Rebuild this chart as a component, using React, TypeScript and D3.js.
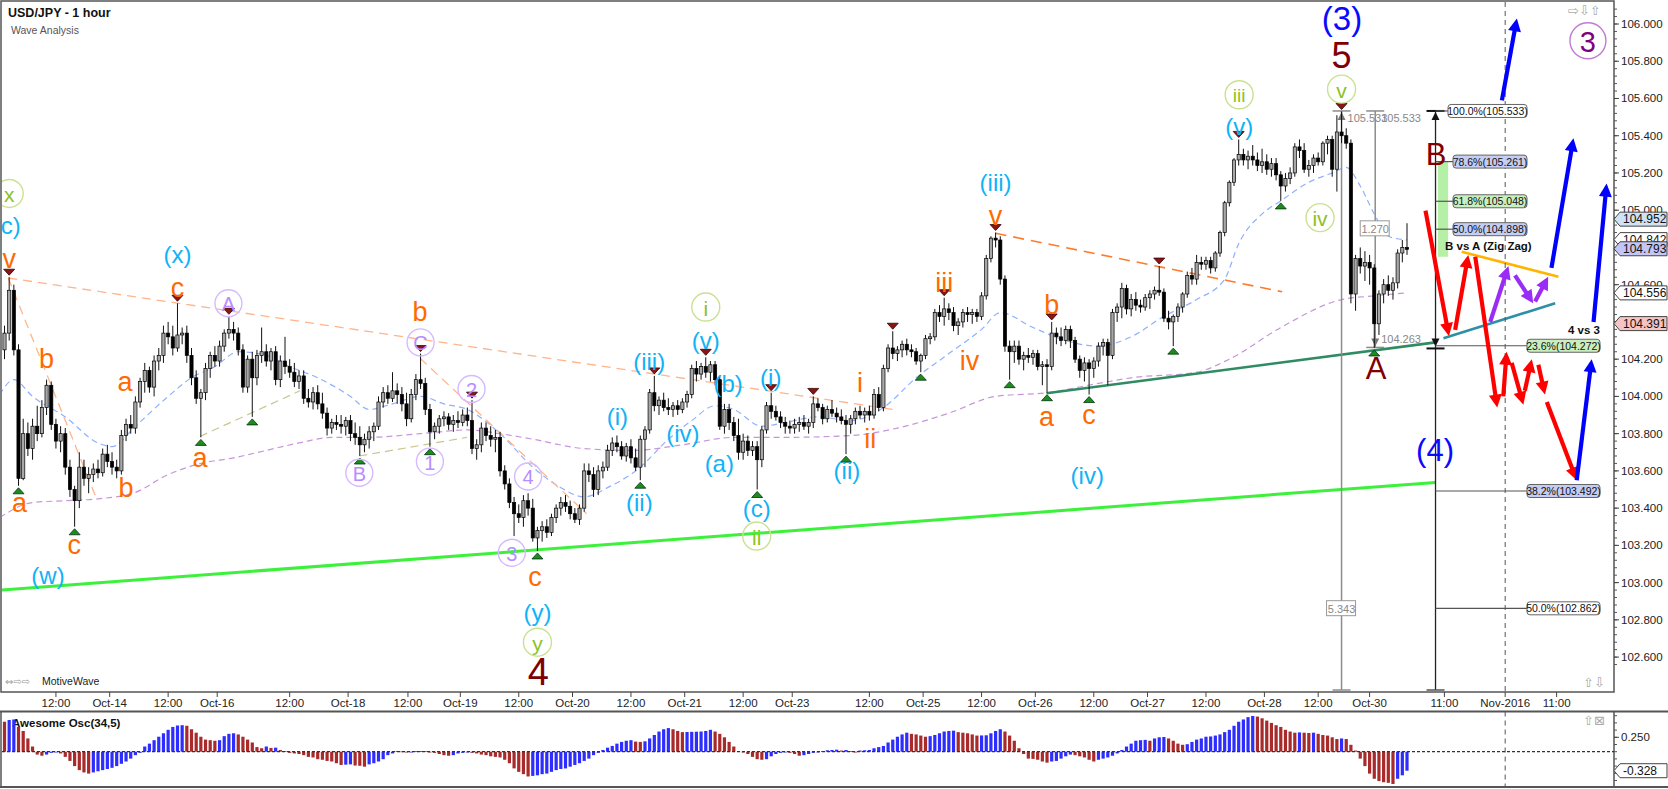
import React from 'react';
import * as d3 from 'd3';

// hourly candles, [open, high, low, close]
const candles: [number, number, number, number][] = [
  [104.25,104.38,104.20,104.34],[104.34,104.64,104.30,104.57],[104.57,104.60,104.22,104.25],[104.25,104.28,103.52,103.56],
  [103.56,103.88,103.55,103.80],[103.80,103.86,103.68,103.72],[103.72,103.88,103.66,103.84],[103.84,103.95,103.76,103.80],
  [103.80,103.98,103.78,103.94],[103.94,104.09,103.90,104.06],[104.06,104.08,103.82,103.85],[103.85,103.88,103.72,103.76],
  [103.76,103.84,103.70,103.80],[103.80,103.83,103.58,103.62],[103.62,103.66,103.46,103.50],[103.50,103.52,103.30,103.44],
  [103.44,103.70,103.40,103.62],[103.62,103.66,103.52,103.56],[103.56,103.62,103.48,103.58],[103.58,103.64,103.54,103.61],
  [103.61,103.66,103.56,103.59],[103.59,103.72,103.57,103.69],[103.69,103.74,103.62,103.65],[103.65,103.70,103.58,103.62],
  [103.62,103.66,103.56,103.60],[103.60,103.82,103.58,103.79],[103.79,103.88,103.76,103.85],[103.85,103.90,103.80,103.83],
  [103.83,104.00,103.80,103.97],[103.97,104.10,103.94,104.08],[104.08,104.18,104.02,104.14],[104.14,104.16,104.02,104.05],
  [104.05,104.22,104.00,104.19],[104.19,104.26,104.14,104.22],[104.22,104.38,104.18,104.34],[104.34,104.40,104.28,104.32],
  [104.32,104.38,104.22,104.26],[104.26,104.50,104.24,104.33],[104.33,104.37,104.28,104.34],[104.34,104.38,104.18,104.22],
  [104.22,104.26,104.06,104.10],[104.10,104.14,103.96,103.99],[103.99,104.04,103.78,104.02],[104.02,104.18,103.98,104.15],
  [104.15,104.24,104.10,104.22],[104.22,104.27,104.16,104.19],[104.19,104.30,104.16,104.27],[104.27,104.36,104.24,104.34],
  [104.34,104.43,104.31,104.36],[104.36,104.40,104.30,104.34],[104.34,104.37,104.22,104.25],[104.25,104.28,104.02,104.05],
  [104.05,104.22,104.02,104.20],[104.20,104.24,103.89,104.10],[104.10,104.25,104.06,104.22],[104.22,104.37,104.18,104.24],
  [104.24,104.28,104.16,104.19],[104.19,104.26,104.14,104.24],[104.24,104.27,104.06,104.09],[104.09,104.22,104.05,104.19],
  [104.19,104.32,104.12,104.16],[104.16,104.20,104.10,104.13],[104.13,104.18,104.05,104.08],[104.08,104.14,104.04,104.11],
  [104.11,104.14,103.96,103.99],[103.99,104.04,103.94,103.97],[103.97,104.05,103.93,104.02],[104.02,104.06,103.93,103.96],
  [103.96,104.02,103.88,103.91],[103.91,103.94,103.79,103.83],[103.83,103.88,103.80,103.86],[103.86,103.90,103.82,103.85],
  [103.85,103.90,103.80,103.84],[103.84,103.89,103.79,103.87],[103.87,103.90,103.76,103.80],[103.80,103.86,103.74,103.78],
  [103.78,103.84,103.68,103.74],[103.74,103.80,103.70,103.77],[103.77,103.84,103.72,103.81],[103.81,103.86,103.76,103.84],
  [103.84,104.00,103.82,103.97],[103.97,104.05,103.94,104.02],[104.02,104.06,103.96,103.99],[103.99,104.13,103.97,104.03],
  [104.03,104.07,103.96,104.01],[104.01,104.05,103.92,103.96],[103.96,104.02,103.84,103.88],[103.88,104.04,103.86,104.01],
  [104.01,104.12,103.98,104.09],[104.09,104.23,104.04,104.07],[104.07,104.10,103.90,103.93],[103.93,103.96,103.73,103.81],
  [103.81,103.86,103.77,103.84],[103.84,103.90,103.80,103.88],[103.88,103.92,103.84,103.89],[103.89,103.91,103.82,103.85],
  [103.85,103.90,103.81,103.87],[103.87,103.92,103.83,103.86],[103.86,103.93,103.84,103.90],[103.90,103.94,103.84,103.87],
  [103.87,103.98,103.69,103.72],[103.72,103.77,103.66,103.74],[103.74,103.86,103.70,103.83],[103.83,103.86,103.76,103.79],
  [103.79,103.84,103.73,103.77],[103.77,103.82,103.70,103.78],[103.78,103.81,103.57,103.60],[103.60,103.63,103.50,103.53],
  [103.53,103.56,103.40,103.43],[103.43,103.46,103.25,103.37],[103.37,103.42,103.32,103.35],[103.35,103.47,103.30,103.44],
  [103.44,103.48,103.36,103.40],[103.40,103.45,103.22,103.24],[103.24,103.30,103.17,103.28],[103.28,103.33,103.22,103.30],
  [103.30,103.34,103.24,103.27],[103.27,103.37,103.25,103.35],[103.35,103.42,103.32,103.40],[103.40,103.46,103.36,103.43],
  [103.43,103.47,103.38,103.41],[103.41,103.44,103.34,103.37],[103.37,103.40,103.32,103.34],[103.34,103.42,103.31,103.40],
  [103.40,103.64,103.38,103.60],[103.60,103.64,103.54,103.58],[103.58,103.62,103.46,103.50],[103.50,103.63,103.47,103.60],
  [103.60,103.65,103.56,103.62],[103.62,103.74,103.60,103.71],[103.71,103.78,103.68,103.75],[103.75,103.79,103.70,103.73],
  [103.73,103.76,103.66,103.68],[103.68,103.75,103.65,103.73],[103.73,103.77,103.64,103.67],[103.67,103.72,103.60,103.62],
  [103.62,103.79,103.55,103.77],[103.77,103.84,103.62,103.82],[103.82,104.04,103.80,104.02],[104.02,104.11,103.92,103.95],
  [103.95,104.00,103.90,103.98],[103.98,104.02,103.92,103.94],[103.94,103.99,103.90,103.93],[103.93,103.97,103.89,103.95],
  [103.95,103.98,103.90,103.93],[103.93,103.99,103.91,103.97],[103.97,104.03,103.94,104.01],[104.01,104.17,103.99,104.15],
  [104.15,104.19,104.08,104.12],[104.12,104.18,104.09,104.16],[104.16,104.21,104.10,104.13],[104.13,104.19,104.08,104.17],
  [104.17,104.19,104.06,104.09],[104.09,104.11,103.82,103.84],[103.84,103.96,103.80,103.93],[103.93,103.96,103.82,103.86],
  [103.86,103.89,103.76,103.79],[103.79,103.88,103.66,103.70],[103.70,103.80,103.66,103.76],[103.76,103.79,103.68,103.71],
  [103.71,103.76,103.68,103.73],[103.73,103.76,103.50,103.66],[103.66,103.84,103.62,103.82],[103.82,103.97,103.80,103.95],
  [103.95,104.02,103.88,103.92],[103.92,103.95,103.87,103.89],[103.89,103.92,103.83,103.86],[103.86,103.89,103.80,103.84],
  [103.84,103.87,103.80,103.83],[103.83,103.88,103.80,103.85],[103.85,103.89,103.81,103.86],[103.86,103.90,103.82,103.84],
  [103.84,103.88,103.80,103.86],[103.86,104.00,103.83,103.96],[103.96,103.99,103.92,103.94],[103.94,103.96,103.85,103.88],
  [103.88,103.95,103.86,103.93],[103.93,103.98,103.89,103.91],[103.91,103.94,103.86,103.89],[103.89,103.93,103.85,103.87],
  [103.87,103.90,103.69,103.85],[103.85,103.90,103.80,103.88],[103.88,103.94,103.85,103.92],[103.92,103.95,103.88,103.90],
  [103.90,103.94,103.86,103.92],[103.92,103.95,103.87,103.90],[103.90,104.04,103.88,104.01],[104.01,104.05,103.92,103.94],
  [103.94,104.17,103.92,104.15],[104.15,104.28,104.13,104.26],[104.26,104.35,104.20,104.23],[104.23,104.27,104.19,104.25],
  [104.25,104.30,104.21,104.28],[104.28,104.31,104.22,104.25],[104.25,104.28,104.21,104.24],[104.24,104.26,104.17,104.19],
  [104.19,104.23,104.13,104.22],[104.22,104.33,104.20,104.31],[104.31,104.34,104.28,104.32],[104.32,104.47,104.30,104.45],
  [104.45,104.49,104.40,104.43],[104.43,104.53,104.38,104.47],[104.47,104.50,104.41,104.45],[104.45,104.48,104.35,104.38],
  [104.38,104.42,104.33,104.40],[104.40,104.47,104.37,104.45],[104.45,104.48,104.40,104.44],[104.44,104.47,104.39,104.45],
  [104.45,104.47,104.40,104.43],[104.43,104.56,104.41,104.54],[104.54,104.76,104.52,104.74],[104.74,104.86,104.72,104.85],
  [104.85,104.88,104.80,104.84],[104.84,104.86,104.60,104.63],[104.63,104.65,104.24,104.27],[104.27,104.30,104.09,104.24],
  [104.24,104.30,104.18,104.27],[104.27,104.30,104.17,104.20],[104.20,104.24,104.14,104.22],[104.22,104.26,104.18,104.21],
  [104.21,104.25,104.17,104.23],[104.23,104.25,104.14,104.16],[104.16,104.19,104.06,104.17],[104.17,104.20,104.02,104.16],
  [104.16,104.40,104.14,104.34],[104.34,104.37,104.28,104.32],[104.32,104.37,104.27,104.30],[104.30,104.38,104.28,104.36],
  [104.36,104.38,104.26,104.30],[104.30,104.32,104.18,104.20],[104.20,104.22,104.10,104.14],[104.14,104.21,104.08,104.18],
  [104.18,104.20,104.01,104.15],[104.15,104.21,104.10,104.19],[104.19,104.29,104.16,104.27],[104.27,104.31,104.22,104.29],
  [104.29,104.31,104.06,104.22],[104.22,104.47,104.20,104.45],[104.45,104.50,104.40,104.48],[104.48,104.61,104.42,104.58],
  [104.58,104.60,104.44,104.47],[104.47,104.55,104.43,104.52],[104.52,104.56,104.46,104.49],[104.49,104.52,104.45,104.48],
  [104.48,104.55,104.46,104.53],[104.53,104.57,104.47,104.55],[104.55,104.59,104.52,104.57],[104.57,104.70,104.54,104.56],
  [104.56,104.58,104.40,104.42],[104.42,104.46,104.36,104.40],[104.40,104.44,104.27,104.43],[104.43,104.50,104.40,104.48],
  [104.48,104.56,104.45,104.55],[104.55,104.67,104.53,104.65],[104.65,104.69,104.60,104.63],[104.63,104.76,104.60,104.72],
  [104.72,104.75,104.68,104.71],[104.71,104.75,104.68,104.73],[104.73,104.75,104.66,104.69],[104.69,104.78,104.67,104.77],
  [104.77,104.89,104.75,104.88],[104.88,105.05,104.86,105.04],[105.04,105.16,105.02,105.15],[105.15,105.28,105.13,105.27],
  [105.27,105.38,105.24,105.30],[105.30,105.33,105.24,105.27],[105.27,105.32,105.22,105.29],[105.29,105.35,105.24,105.27],
  [105.27,105.31,105.21,105.24],[105.24,105.33,105.20,105.26],[105.26,105.30,105.19,105.22],[105.22,105.28,105.18,105.25],
  [105.25,105.28,105.16,105.19],[105.19,105.21,105.05,105.13],[105.13,105.20,105.10,105.17],[105.17,105.23,105.14,105.20],
  [105.20,105.36,105.18,105.34],[105.34,105.38,105.28,105.32],[105.32,105.36,105.20,105.22],[105.22,105.27,105.18,105.24],
  [105.24,105.30,105.20,105.28],[105.28,105.31,105.24,105.26],[105.26,105.37,105.24,105.36],[105.36,105.40,105.30,105.38],
  [105.38,105.40,105.18,105.22],[105.22,105.51,105.10,105.42],[105.42,105.53,105.36,105.40],[105.40,105.44,105.33,105.36],
  [105.36,105.38,104.50,104.55],[104.55,104.76,104.46,104.74],[104.74,104.80,104.66,104.70],[104.70,104.78,104.62,104.72],
  [104.72,104.76,104.60,104.69],[104.69,104.71,104.26,104.39],[104.39,104.57,104.33,104.55],[104.55,104.63,104.50,104.60],
  [104.60,104.65,104.54,104.57],[104.57,104.64,104.52,104.61],[104.61,104.79,104.58,104.77],[104.77,104.84,104.72,104.80],
  [104.80,104.93,104.76,104.79],
];

// Awesome Oscillator (34,5), one value per candle
const aoValues: number[] = [
  0.52,0.55,0.56,0.43,0.36,0.23,0.09,-0.05,-0.07,-0.05,-0.02,-0.01,-0.03,-0.09,-0.16,-0.25,-0.32,-0.36,-0.38,-0.36,
  -0.34,-0.32,-0.30,-0.28,-0.25,-0.21,-0.17,-0.12,-0.06,-0.02,0.09,0.14,0.20,0.26,0.32,0.38,0.43,0.455,0.46,0.45,
  0.39,0.33,0.26,0.21,0.20,0.19,0.20,0.27,0.31,0.32,0.30,0.26,0.21,0.16,0.08,0.06,0.09,0.065,0.07,0.03,
  0.01,-0.02,-0.03,-0.04,-0.06,-0.09,-0.10,-0.13,-0.14,-0.16,-0.17,-0.20,-0.23,-0.225,-0.22,-0.24,-0.245,-0.26,-0.22,-0.20,
  -0.17,-0.13,-0.06,-0.03,0.01,0.005,-0.01,0.0,0.008,0.012,0.011,0.0,-0.02,-0.04,-0.06,-0.07,-0.06,-0.03,-0.02,-0.01,
  -0.02,-0.03,-0.05,-0.06,-0.08,-0.09,-0.10,-0.14,-0.20,-0.29,-0.35,-0.39,-0.43,-0.42,-0.41,-0.39,-0.38,-0.35,-0.32,-0.30,
  -0.29,-0.26,-0.23,-0.20,-0.16,-0.12,-0.06,-0.02,0.03,0.07,0.10,0.14,0.17,0.19,0.20,0.175,0.17,0.18,0.23,0.29,
  0.35,0.39,0.41,0.39,0.36,0.34,0.342,0.345,0.347,0.35,0.36,0.38,0.35,0.31,0.25,0.17,0.09,0.01,-0.01,-0.04,
  -0.09,-0.13,-0.14,-0.13,-0.08,-0.04,-0.02,0.0,-0.02,-0.04,-0.07,-0.06,-0.04,-0.02,0.0,0.01,0.025,0.03,0.035,0.02,
  0.03,0.01,0.0,0.02,0.025,0.03,0.06,0.08,0.10,0.16,0.21,0.26,0.30,0.33,0.31,0.30,0.28,0.26,0.27,0.29,
  0.32,0.35,0.36,0.365,0.34,0.33,0.32,0.30,0.28,0.282,0.285,0.32,0.36,0.39,0.35,0.28,0.19,0.06,-0.04,-0.12,
  -0.125,-0.14,-0.17,-0.19,-0.17,-0.16,-0.12,-0.08,-0.05,-0.06,-0.08,-0.10,-0.14,-0.17,-0.14,-0.12,-0.10,-0.07,-0.03,0.03,
  0.09,0.14,0.19,0.20,0.205,0.19,0.23,0.25,0.255,0.23,0.19,0.14,0.12,0.13,0.17,0.21,0.23,0.26,0.265,0.28,
  0.30,0.34,0.38,0.45,0.52,0.56,0.60,0.62,0.61,0.58,0.54,0.50,0.46,0.43,0.38,0.35,0.33,0.335,0.33,0.325,
  0.33,0.31,0.29,0.28,0.25,0.22,0.23,0.22,0.12,0.02,-0.12,-0.25,-0.38,-0.47,-0.51,-0.53,-0.54,-0.56,-0.47,-0.41,
  -0.33,
];
const aoLastLabel = '-0.328';

// moving averages, [bar, price]
const fastMA: [number, number][] = [
  [-1,104.01],[2,104.09],[6,104.0],[13,103.89],[20,103.75],[23,103.73],[28,103.84],[35,104.0],[40,104.10],[45,104.16],
  [50,104.24],[56,104.22],[61,104.16],[67,104.10],[74,104.0],[78,103.93],[83,103.96],[89,104.0],[94,103.96],[99,103.93],
  [106,103.80],[113,103.62],[119,103.51],[124,103.46],[129,103.51],[136,103.62],[142,103.77],[147,103.87],[152,103.95],
  [156,103.93],[162,103.84],[167,103.86],[174,103.89],[181,103.87],[188,103.94],[195,104.10],[202,104.23],[209,104.36],
  [213,104.45],[220,104.37],[227,104.30],[234,104.27],[241,104.32],[248,104.43],[255,104.52],[261,104.63],[264,104.82],
  [269,104.98],[273,105.05],[279,105.15],[284,105.20],[287,105.23],[290,105.13],[293,104.98],[296,104.86],[300,104.84],
];
const slowMA: [number, number][] = [
  [-1,103.35],[6,103.43],[13,103.44],[20,103.45],[27.5,103.48],[35,103.58],[42,103.64],[49,103.67],[56,103.71],[63,103.75],
  [70,103.78],[77.5,103.78],[89,103.80],[99,103.82],[106,103.80],[113,103.77],[124,103.72],[134.5,103.71],[145,103.74],
  [156,103.78],[166.5,103.78],[181,103.79],[191,103.83],[202,103.91],[212,104.0],[223,104.02],[234,104.07],[241,104.10],
  [255,104.13],[262,104.20],[273,104.37],[286,104.52],[293,104.54],[300,104.556],
];

const timeTicks: [number, string][] = [
  [11,'12:00'],[22.5,'Oct-14'],[35,'12:00'],[45.5,'Oct-16'],[61,'12:00'],[73.5,'Oct-18'],[86.3,'12:00'],[97.5,'Oct-19'],
  [110,'12:00'],[121.5,'Oct-20'],[134,'12:00'],[145.5,'Oct-21'],[158,'12:00'],[168.5,'Oct-23'],[185,'12:00'],[196.5,'Oct-25'],
  [209,'12:00'],[220.5,'Oct-26'],[233,'12:00'],[244.5,'Oct-27'],[257,'12:00'],[269.5,'Oct-28'],[281,'12:00'],[292,'Oct-30'],
  [308,'11:00'],[321,'Nov-2016'],[332,'11:00'],
];
const priceTicks = [102.6,102.8,103.0,103.2,103.4,103.6,103.8,104.0,104.2,104.4,104.6,104.8,105.0,105.2,105.4,105.6,105.8,106.0];
const aoTicks = [0.25];

const swingHighs = [1,37,48,89,100,139,150,164,173,190,201,212,224,247,264,286];
const swingLows = [3,15,42,53,76,91,114,136,161,180,196,215,223,232,250,273,293];

// wave labels: [bar, price, text]
const orangeLabels: [number, number, string][] = [
  [1.0,104.74,'v'],[9.0,104.20,'b'],[3.2,103.43,'a'],[14.9,103.20,'c'],[37.0,104.58,'c'],[25.8,104.08,'a'],[26.0,103.51,'b'],
  [41.8,103.67,'a'],[88.9,104.455,'b'],[113.5,103.03,'c'],[183.0,104.07,'i'],[185.2,103.77,'ii'],[201.0,104.61,'iii'],
  [206.4,104.19,'iv'],[212.0,104.97,'v'],[224.0,104.49,'b'],[222.9,103.89,'a'],[232.0,103.90,'c'],
];
const cyanLabels: [number, number, string][] = [
  [0.5,104.92,'(c)'],[9.3,103.04,'(w)'],[37.0,104.76,'(x)'],[114.0,102.84,'(y)'],[131.1,103.89,'(i)'],[135.8,103.43,'(ii)'],
  [137.9,104.19,'(iii)'],[145.1,103.80,'(iv)'],[150.0,104.30,'(v)'],[154.8,104.07,'(b)'],[152.9,103.64,'(a)'],[160.9,103.40,'(c)'],
  [163.9,104.10,'(i)'],[180.2,103.60,'(ii)'],[212.0,105.15,'(iii)'],[231.6,103.575,'(iv)'],[264.1,105.45,'(v)'],
];
const greenCircled: [number, number, string][] = [
  [1.0,105.09,'x'],[114.0,102.68,'y'],[150.0,104.48,'i'],[160.9,103.25,'ii'],[264.1,105.62,'iii'],[281.4,104.96,'iv'],[286.0,105.65,'v'],
];
const purpleCircled: [number, number, string][] = [
  [47.9,104.50,'A'],[75.9,103.59,'B'],[89.0,104.29,'C'],[91.0,103.65,'1'],[99.9,104.04,'2'],[108.5,103.16,'3'],[112.0,103.57,'4'],
];
const bigLabels: [number, number, string, string, number][] = [
  [114.2,102.52,'4','#800000',38],[286.0,105.83,'5','#800000',36],[286.1,106.03,'(3)','#0a0aff',33],
  [306.2,105.30,'B','#800000',31],[293.4,104.15,'A','#800000',31],[306.0,103.71,'(4)','#0a0aff',31],
];

// straight trend lines: [bar1, price1, bar2, price2]
const greenLine = [-0.6, 102.96, 306.1, 103.538];
const seaGreenLine = [222.9, 104.017, 306.1, 104.29];
const tealLine = [307.8, 104.312, 331.7, 104.50];
const amberLine = [311.7, 104.777, 332.4, 104.643];
const orangeDash = [212.0, 104.876, 273.3, 104.562];
const peachDashes = [[0.8, 104.636, 190.9, 103.927], [0.8, 104.636, 19.7, 103.45], [88.9, 104.205, 124.5, 103.37]];
const oliveDashes = [[41.8, 103.785, 63.2, 104.03], [75.9, 103.68, 98.9, 103.78]];

// projection arrows: [bar1, price1, bar2, price2]
const redArrows = [
  [303.96,104.998,308.97,104.324],[310.3,104.357,313.1,104.76],[314.6,104.75,319.3,103.94],[320.6,104.0,321.3,104.24],
  [322.4,104.18,324.9,103.955],[325.2,104.03,326.7,104.20],[328.1,104.17,329.5,104.01],[329.9,103.97,336.3,103.55],
];
const blueArrows = [
  [320.3,105.59,323.5,106.03],[330.9,104.69,335.6,105.386],[339.9,104.40,342.7,105.143],[336.3,103.55,339.5,104.20],
];
const purpleArrows = [
  [317.8,104.40,321.7,104.70],[323.1,104.65,327.0,104.50],[327.4,104.51,330.2,104.643],
];

const fibBar = 306.1;
const fibHigh = 105.533;
const fibLow = 104.263;
const fibLevels = [
  { pct: '100.0%', price: 105.533, fill: '#ffffff', near: true },
  { pct: '78.6%', price: 105.261, fill: '#c6cdf3', near: true },
  { pct: '61.8%', price: 105.048, fill: '#c9efc1', near: true },
  { pct: '50.0%', price: 104.898, fill: '#c6cdf3', near: true },
  { pct: '23.6%', price: 104.272, fill: '#c9efc1', near: false },
  { pct: '38.2%', price: 103.492, fill: '#c6cdf3', near: false },
  { pct: '50.0%', price: 102.862, fill: '#ffffff', near: false },
];
const fibZone = [306.6, 308.8, 105.26, 104.75];

const measureBars = [286.0, 293.2];
const measureBoxes = [{ bar: 293.2, price: 104.90, text: '1.270' }, { bar: 286.0, price: 102.86, text: '5.343' }];
const axisTags = [
  { price: 104.952, fill: '#cfe3f5' },
  { price: 104.842, fill: '#ffffff' },
  { price: 104.793, fill: '#c3c6f4' },
  { price: 104.556, fill: '#ffffff' },
  { price: 104.391, fill: '#f5c4c4' },
];
const novBar = 321;

const W = 1668;
const H = 789;
const panelL = 2;
const panelR = 1614;
const panelT = 2;
const panelB = 692;
const aoTop = 711.5;
const aoBottom = 787;
const FONT = '"Liberation Sans", Arial, sans-serif';

const x = d3.scaleLinear().domain([0, 300]).range([4.5, 4.5 + 300 * 4.675]);
const y = d3.scaleLinear().domain([102.6, 106]).range([657.1, 24]);
const ao = d3.scaleLinear().domain([0, 0.25]).range([751.7, 737.3]);

function arrow(a: number[], color: string, key: string) {
  const x1 = x(a[0]), y1 = y(a[1]), x2 = x(a[2]), y2 = y(a[3]);
  const len = Math.hypot(x2 - x1, y2 - y1);
  const ux = (x2 - x1) / len, uy = (y2 - y1) / len;
  const hl = 13, hw = 6.5;
  const bx = x2 - ux * hl, by = y2 - uy * hl;
  const head = `M${x2},${y2}L${bx - uy * hw},${by + ux * hw}L${bx + uy * hw},${by - ux * hw}Z`;
  return (
    <g key={key}>
      <line x1={x1} y1={y1} x2={bx + ux * 2} y2={by + uy * 2} stroke={color} strokeWidth={4.2} />
      <path d={head} fill={color} />
    </g>
  );
}

function segment(a: number[], stroke: string, width: number, dash: string | undefined, key: string) {
  return <line key={key} x1={x(a[0])} y1={y(a[1])} x2={x(a[2])} y2={y(a[3])} stroke={stroke} strokeWidth={width} strokeDasharray={dash} />;
}

function tag(yy: number, text: string, fill: string, key: string) {
  const px = panelR;
  const d = `M${px},${yy}L${px + 6},${yy - 7}L${W - 1},${yy - 7}L${W - 1},${yy + 7}L${px + 6},${yy + 7}Z`;
  return (
    <g key={key}>
      <path d={d} fill={fill} stroke="#444" strokeWidth={1} />
      <text x={px + 9} y={yy + 4} fontSize={12} fontFamily={FONT} fill="#111">{text}</text>
    </g>
  );
}

export default function App() {
  const maLine = d3.line<[number, number]>().x(d => x(d[0])).y(d => y(d[1])).curve(d3.curveMonotoneX);
  const bw = 3.2;

  const minorPrice = d3.range(102.56, 106.1, 0.04);
  const minorAo = d3.range(-0.5, 0.7, 0.125);
  // axis labels that sit fully under a price tag are not visible in the original
  const tagYs = axisTags.map(t => y(t.price));
  const visibleTicks = priceTicks.filter(p => tagYs.every(ty => Math.abs(ty - y(p)) > 5));

  return (
    <svg width={W} height={H} style={{ display: 'block', position: 'absolute', left: 0, top: 0, background: '#fff' }}>
      <defs>
        <clipPath id="pc"><rect x={panelL} y={panelT} width={panelR - panelL} height={panelB - panelT} /></clipPath>
        <clipPath id="ac"><rect x={panelL} y={aoTop} width={panelR - panelL} height={aoBottom - aoTop} /></clipPath>
      </defs>
      <rect width={W} height={H} fill="#fff" />

      <g clipPath="url(#pc)">
        {/* moving averages */}
        <path d={maLine(slowMA) || ''} fill="none" stroke="#c696d8" strokeWidth={1.2} strokeDasharray="6,4" />
        <path d={maLine(fastMA) || ''} fill="none" stroke="#8fb0ff" strokeWidth={1.2} strokeDasharray="6,4" />

        {/* trend lines */}
        {peachDashes.map((a, i) => segment(a, '#ffb48c', 1.3, '9,6', 'pd' + i))}
        {oliveDashes.map((a, i) => segment(a, '#c9c690', 1.2, '8,5', 'od' + i))}
        {segment(orangeDash, '#ff7a2a', 1.6, '11,7', 'odash')}
        {segment(greenLine, '#3cf03c', 3, undefined, 'green')}
        {segment(seaGreenLine, '#2e8b62', 2.6, undefined, 'sea')}
        {segment(tealLine, '#2f8fa6', 2.6, undefined, 'teal')}
        {segment(amberLine, '#ffb400', 2.6, undefined, 'amber')}

        {/* date separator */}
        <line x1={x(novBar)} x2={x(novBar)} y1={panelT} y2={panelB} stroke="#555" strokeDasharray="5,4" />

        {/* measure lines */}
        <line x1={x(measureBars[0])} x2={x(measureBars[0])} y1={y(fibHigh)} y2={panelB - 2} stroke="#8c8c8c" strokeWidth={1.5} />
        <line x1={x(measureBars[0]) - 9} x2={x(measureBars[0]) + 9} y1={y(fibHigh)} y2={y(fibHigh)} stroke="#8c8c8c" strokeWidth={1.5} />
        <line x1={x(measureBars[0]) - 9} x2={x(measureBars[0]) + 9} y1={panelB - 2} y2={panelB - 2} stroke="#8c8c8c" strokeWidth={1.5} />
        <path d={`M${x(measureBars[0])},${y(fibHigh) + 1}l-4,8h8z`} fill="#777" />
        <text x={x(measureBars[0]) + 6} y={y(fibHigh) + 11} fontSize={11} fontFamily={FONT} fill="#888">105.533</text>
        <line x1={x(measureBars[1])} x2={x(measureBars[1])} y1={y(fibHigh)} y2={y(fibLow)} stroke="#8c8c8c" strokeWidth={1.5} />
        <line x1={x(measureBars[1]) - 9} x2={x(measureBars[1]) + 9} y1={y(fibHigh)} y2={y(fibHigh)} stroke="#8c8c8c" strokeWidth={1.5} />
        <line x1={x(measureBars[1]) - 9} x2={x(measureBars[1]) + 9} y1={y(fibLow)} y2={y(fibLow)} stroke="#8c8c8c" strokeWidth={1.5} />
        <path d={`M${x(measureBars[1])},${y(fibLow) - 1}l-4,-8h8z`} fill="#777" />
        <text x={x(measureBars[1]) + 6} y={y(fibHigh) + 11} fontSize={11} fontFamily={FONT} fill="#888">105.533</text>
        <text x={x(measureBars[1]) + 6} y={y(fibLow) - 4} fontSize={11} fontFamily={FONT} fill="#888">104.263</text>
        {measureBoxes.map((m, i) => (
          <g key={'mb' + i}>
            <rect x={x(m.bar) - 15} y={y(m.price) - 8} width={29} height={15} fill="#fff" stroke="#999" />
            <text x={x(m.bar)} y={y(m.price) + 4} textAnchor="middle" fontSize={11} fontFamily={FONT} fill="#888">{m.text}</text>
          </g>
        ))}

        {/* fib tool */}
        <rect x={x(fibZone[0])} y={y(fibZone[2])} width={x(fibZone[1]) - x(fibZone[0])} height={y(fibZone[3]) - y(fibZone[2])} fill="#b6f0a6" />
        <line x1={x(fibBar)} x2={x(fibBar)} y1={y(fibHigh)} y2={panelB - 2} stroke="#222" strokeWidth={1.3} />
        <line x1={x(fibBar) - 9} x2={x(fibBar) + 9} y1={y(fibHigh)} y2={y(fibHigh)} stroke="#111" strokeWidth={2} />
        <path d={`M${x(fibBar)},${y(fibHigh) + 1}l-4,8h8z`} fill="#111" />
        <line x1={x(fibBar) - 9} x2={x(fibBar) + 9} y1={y(fibLow) + 1} y2={y(fibLow) + 1} stroke="#111" strokeWidth={2} />
        <path d={`M${x(fibBar)},${y(fibLow) - 1}l-4,-8h8z`} fill="#111" />
        <line x1={x(fibBar) - 9} x2={x(fibBar) + 9} y1={panelB - 2} y2={panelB - 2} stroke="#555" strokeWidth={1.5} />
        {fibLevels.map((f, i) => {
          const yy = y(f.price);
          const bx = f.near ? (f.pct === '100.0%' ? 1448 : 1453) : 1527;
          const bwid = f.near ? 1527 - bx : 73;
          return (
            <g key={'fib' + i}>
              <line x1={x(fibBar)} x2={bx} y1={yy} y2={yy} stroke="#555" strokeWidth={1.2} />
              <rect x={bx} y={yy - 6.5} width={bwid} height={13} rx={3} fill={f.fill} stroke="#666" />
              <text x={bx + bwid / 2} y={yy + 4} textAnchor="middle" fontSize={10.5} fontFamily={FONT} fill="#111">{`${f.pct}(${f.price.toFixed(3)})`}</text>
            </g>
          );
        })}

        {/* candles */}
        {candles.map((c, i) => {
          const [o, h, l, cl] = c;
          const cx = x(i);
          const up = cl >= o;
          const top = y(Math.max(o, cl));
          const bh = Math.max(1, y(Math.min(o, cl)) - top);
          return (
            <g key={'c' + i}>
              <line x1={cx} x2={cx} y1={y(h)} y2={y(l)} stroke="#111" strokeWidth={1} />
              <rect x={cx - bw / 2} y={top} width={bw} height={bh} fill={up ? '#a8a8a8' : '#000'} stroke="#000" strokeWidth={0.7} />
            </g>
          );
        })}

        {/* swing markers */}
        {swingHighs.map(i => {
          const cx = x(i), yy = y(candles[i][1]) - 2;
          return <path key={'sh' + i} d={`M${cx - 5.5},${yy - 6}h11l-5.5,6z`} fill="#8b1414" stroke="#300" strokeWidth={0.8} />;
        })}
        {swingLows.map(i => {
          const cx = x(i), yy = y(candles[i][2]) + 2;
          return <path key={'sl' + i} d={`M${cx - 5.5},${yy + 6}h11l-5.5,-6z`} fill="#1c8c1c" stroke="#031" strokeWidth={0.8} />;
        })}

        {/* wave labels */}
        {orangeLabels.map((l, i) => (
          <text key={'ol' + i} x={x(l[0])} y={y(l[1])} textAnchor="middle" dominantBaseline="central" fontSize={27} fontFamily={FONT} fill="#ff6a00">{l[2]}</text>
        ))}
        {cyanLabels.map((l, i) => (
          <text key={'cl' + i} x={x(l[0])} y={y(l[1])} textAnchor="middle" dominantBaseline="central" fontSize={24} fontFamily={FONT} fill="#12b2f6">{l[2]}</text>
        ))}
        {greenCircled.map((l, i) => (
          <g key={'gc' + i}>
            <circle cx={x(l[0])} cy={y(l[1])} r={14} fill="none" stroke="#c9e291" strokeWidth={1.4} />
            <text x={x(l[0])} y={y(l[1]) + 1} textAnchor="middle" dominantBaseline="central" fontSize={l[2].length > 2 ? 19 : 21} fontFamily={FONT} fill="#8dc21f">{l[2]}</text>
          </g>
        ))}
        {purpleCircled.map((l, i) => (
          <g key={'pc' + i}>
            <circle cx={x(l[0])} cy={y(l[1])} r={13.5} fill="none" stroke="#d5baff" strokeWidth={1.4} />
            <text x={x(l[0])} y={y(l[1]) + 1} textAnchor="middle" dominantBaseline="central" fontSize={20} fontFamily={FONT} fill="#b98cff">{l[2]}</text>
          </g>
        ))}
        {bigLabels.map((l, i) => (
          <text key={'bl' + i} x={x(l[0])} y={y(l[1])} textAnchor="middle" dominantBaseline="central" fontSize={l[4]} fontFamily={FONT} fill={l[3]}>{l[2]}</text>
        ))}
        <circle cx={x(338.7)} cy={y(105.91)} r={18} fill="none" stroke="#c27ad2" strokeWidth={1.4} />
        <text x={x(338.7)} y={y(105.91) + 1} textAnchor="middle" dominantBaseline="central" fontSize={29} fontFamily={FONT} fill="#800080">3</text>

        {/* projections */}
        {purpleArrows.map((a, i) => arrow(a, '#9a2cf5', 'pa' + i))}
        {redArrows.map((a, i) => arrow(a, '#ff0000', 'ra' + i))}
        {blueArrows.map((a, i) => arrow(a, '#0000ff', 'ba' + i))}

        <text x={1445} y={y(104.898) + 21} fontSize={11.5} fontWeight="bold" fontFamily={FONT} fill="#111">B vs A (Zig Zag)</text>
        <text x={1568} y={y(104.272) - 12} fontSize={11.5} fontWeight="bold" fontFamily={FONT} fill="#111">4 vs 3</text>

        <text x={8} y={17} fontSize={12.5} fontWeight="bold" fontFamily={FONT} fill="#111">USD/JPY - 1 hour</text>
        <text x={11} y={34} fontSize={10.5} fontFamily={FONT} fill="#555">Wave Analysis</text>
        <text x={1568} y={15} fontSize={13} fontFamily='"DejaVu Sans"' fill="#aaa">⇨⇩⇧</text>
        <text x={1583} y={687} fontSize={13} fontFamily='"DejaVu Sans"' fill="#aaa">⇧⇩</text>
        <text x={5} y={685} fontSize={10} fontFamily='"DejaVu Sans"' fill="#999">⇔⇨⇨</text>
        <text x={42} y={685} fontSize={10.5} fontFamily={FONT} fill="#222">MotiveWave</text>
      </g>

      {/* price panel frame and axis */}
      <rect x={panelL - 1} y={panelT - 1} width={panelR - panelL + 1} height={panelB - panelT + 1} fill="none" stroke="#555" strokeWidth={1.5} />
      {minorPrice.map((p, i) => (
        <line key={'mp' + i} x1={panelR} x2={panelR + 3} y1={y(p)} y2={y(p)} stroke="#555" />
      ))}
      {priceTicks.map(p => (
        <line key={'pk' + p} x1={panelR} x2={panelR + 5} y1={y(p)} y2={y(p)} stroke="#444" />
      ))}
      {visibleTicks.map(p => (
        <text key={'pt' + p} x={panelR + 7} y={y(p) + 4} fontSize={11.5} fontFamily={FONT} fill="#222">{p.toFixed(3)}</text>
      ))}
      {axisTags.map((t, i) => tag(y(t.price), t.price.toFixed(3), t.fill, 'tg' + i))}

      {/* time axis */}
      {timeTicks.map(([i, label], k) => (
        <g key={'tt' + k}>
          <line x1={x(i)} x2={x(i)} y1={panelB} y2={panelB + 5} stroke="#444" />
          <text x={x(i)} y={707} textAnchor="middle" fontSize={11.5} fontFamily={FONT} fill="#222">{label}</text>
        </g>
      ))}

      {/* AO panel */}
      <line x1={0} x2={W} y1={aoTop} y2={aoTop} stroke="#555" strokeWidth={2} />
      <line x1={0} x2={W} y1={aoBottom} y2={aoBottom} stroke="#555" strokeWidth={2} />
      <line x1={panelL - 1} x2={panelL - 1} y1={aoTop} y2={aoBottom} stroke="#555" strokeWidth={1.5} />
      <line x1={panelR} x2={panelR} y1={aoTop} y2={aoBottom} stroke="#555" strokeWidth={1.5} />
      <line x1={x(novBar)} x2={x(novBar)} y1={aoTop} y2={aoBottom} stroke="#555" strokeDasharray="5,4" />
      <text x={12} y={727} fontSize={11.5} fontWeight="bold" fontFamily={FONT} fill="#111">Awesome Osc(34,5)</text>
      <g clipPath="url(#ac)">
        {aoValues.map((v, i) => {
          const prev = i === 0 ? v + 0.01 : aoValues[i - 1];
          const col = v > prev ? '#2d2dff' : '#a82a2a';
          const y0 = ao(0), y1 = ao(v);
          return <rect key={'ao' + i} x={x(i) - 1.6} y={Math.min(y0, y1)} width={3.2} height={Math.max(0.8, Math.abs(y1 - y0))} fill={col} />;
        })}
      </g>
      <line x1={panelL} x2={panelR} y1={ao(0)} y2={ao(0)} stroke="#333" strokeWidth={1.2} strokeDasharray="3,2" />
      {minorAo.map((v, i) => (
        <line key={'ma' + i} x1={panelR} x2={panelR + 3} y1={ao(v)} y2={ao(v)} stroke="#555" />
      ))}
      {aoTicks.map(v => (
        <g key={'at' + v}>
          <line x1={panelR} x2={panelR + 5} y1={ao(v)} y2={ao(v)} stroke="#444" />
          <text x={panelR + 7} y={ao(v) + 4} fontSize={11.5} fontFamily={FONT} fill="#222">{v.toFixed(3)}</text>
        </g>
      ))}
      {tag(ao(aoValues[aoValues.length - 1]), aoLastLabel, '#ffffff', 'aotag')}
      <text x={1583} y={725} fontSize={13} fontFamily='"DejaVu Sans"' fill="#aaa">⇧⊠</text>
    </svg>
  );
}
